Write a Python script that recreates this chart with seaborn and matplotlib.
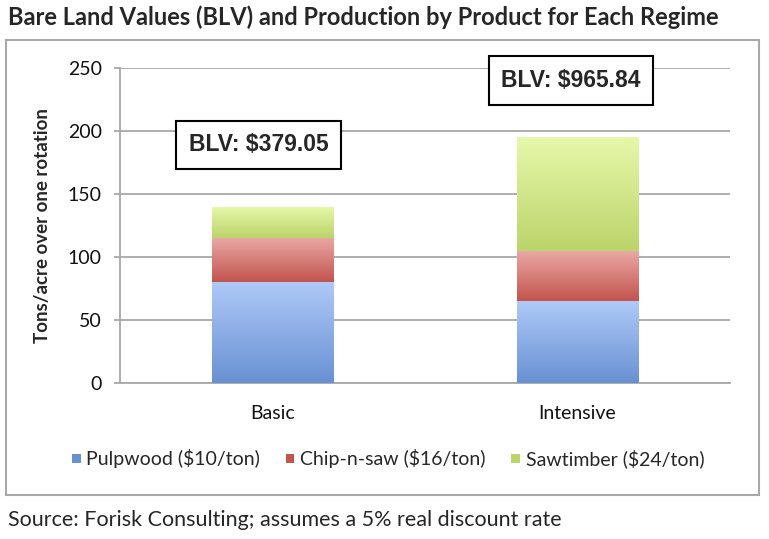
import numpy as np
import pandas as pd
import matplotlib
matplotlib.use("Agg")
import matplotlib.pyplot as plt
from matplotlib.colors import to_rgb
from matplotlib.patches import Rectangle, Patch
import seaborn as sns

# data
regimes = ["Basic", "Intensive"]
products = ["Pulpwood ($10/ton)", "Chip-n-saw ($16/ton)", "Sawtimber ($24/ton)"]
pulpwood = [80, 65]
chip_n_saw = [35, 40]
sawtimber = [25, 90]
blv = [379.05, 965.84]

# gradient colours per product: (top, bottom)
grads = [("#AFC9F8", "#6891D2"), ("#EAA9A6", "#C3544E"), ("#E6F8AA", "#BCD46B")]

sns.set_theme(style="white")
plt.rcParams["font.family"] = ["Lato", "DejaVu Sans"]

fig = plt.figure(figsize=(7.69, 5.39), dpi=100)
ax = fig.add_axes([120 / 769, 1 - 383 / 539, 610 / 769, 315 / 539])

layers = [pulpwood, chip_n_saw, sawtimber]
bottom = np.zeros(len(regimes))
layer_patches = []
for vals, (top_c, bot_c) in zip(layers, grads):
    n_before = len(ax.patches)
    sns.barplot(x=regimes, y=vals, bottom=bottom, color=bot_c, width=0.4,
                errorbar=None, linewidth=0, ax=ax)
    layer_patches.append(ax.patches[n_before:])
    bottom = bottom + np.array(vals)

# vertical gradient fill clipped to each bar segment
for patches, (top_c, bot_c) in zip(layer_patches, grads):
    t = np.array(to_rgb(top_c))
    b = np.array(to_rgb(bot_c))
    grad = np.linspace(0, 1, 100)[:, None, None]
    img = t * (1 - grad) + b * grad
    for p in patches:
        x0, y0 = p.get_x(), p.get_y()
        w, h = p.get_width(), p.get_height()
        im = ax.imshow(img, extent=[x0, x0 + w, y0, y0 + h], aspect="auto",
                       origin="upper", zorder=3, interpolation="bilinear")
        im.set_clip_path(p)
        p.set_zorder(2)

ax.set_xlim(-0.5, 1.5)
ax.set_ylim(0, 250)
ax.set_yticks(range(0, 251, 50))
ax.yaxis.grid(True, color="#A8A8A8", linewidth=1.3)
ax.set_axisbelow(True)
for s in ["top", "right"]:
    ax.spines[s].set_visible(False)
for s in ["left", "bottom"]:
    ax.spines[s].set_color("#A8A8A8")
    ax.spines[s].set_linewidth(1.3)

ax.set_xticks([-0.5, 0.5, 1.5], minor=True)
ax.tick_params(axis="x", which="minor", length=5, color="#A8A8A8", width=1.3, direction="out")
ax.tick_params(axis="x", which="major", length=0, pad=16, labelsize=14, labelcolor="#111111")
ax.tick_params(axis="y", length=4, color="#A8A8A8", width=1.3, direction="out",
               left=True, pad=9, labelsize=14, labelcolor="#111111")
ax.set_ylabel("Tons/acre over one rotation", fontsize=13.5, fontweight="bold")
ax.yaxis.set_label_coords(-(120 - 51) / 610, 0.5)

# BLV annotation boxes
box_pos = [(-0.046, 189), (0.979, 240)]
for (bx, by), v in zip(box_pos, blv):
    ax.text(bx, by, f"BLV: ${v:,.2f}", ha="center", va="center", fontsize=16.5,
            fontweight="bold", family="Liberation Sans", zorder=5,
            bbox=dict(boxstyle="square,pad=0.55", facecolor="white",
                      edgecolor="black", linewidth=1.5))

# legend
handles = [Patch(facecolor=bc, edgecolor="none") for _, bc in grads]
fig.legend(handles, products, loc="center", bbox_to_anchor=(388 / 769, 1 - 459 / 539),
           ncol=3, frameon=False, fontsize=14, handlelength=0.45, handleheight=0.4,
           handletextpad=0.3, columnspacing=1.3, borderpad=0, borderaxespad=0)

# outer chart frame
fig.patches.append(Rectangle((6 / 769, 1 - 495 / 539), 753 / 769, 455 / 539,
                             transform=fig.transFigure, fill=False,
                             edgecolor="#A8A8A8", linewidth=1.5))

fig.text(8 / 769, 1 - 17 / 539, "Bare Land Values (BLV) and Production by Product for Each Regime",
         fontsize=17, fontweight="bold", va="center", ha="left")
fig.text(8 / 769, 1 - 520 / 539, "Source: Forisk Consulting; assumes a 5% real discount rate",
         fontsize=15.5, va="center", ha="left")

fig.savefig("out.png", dpi=100)
